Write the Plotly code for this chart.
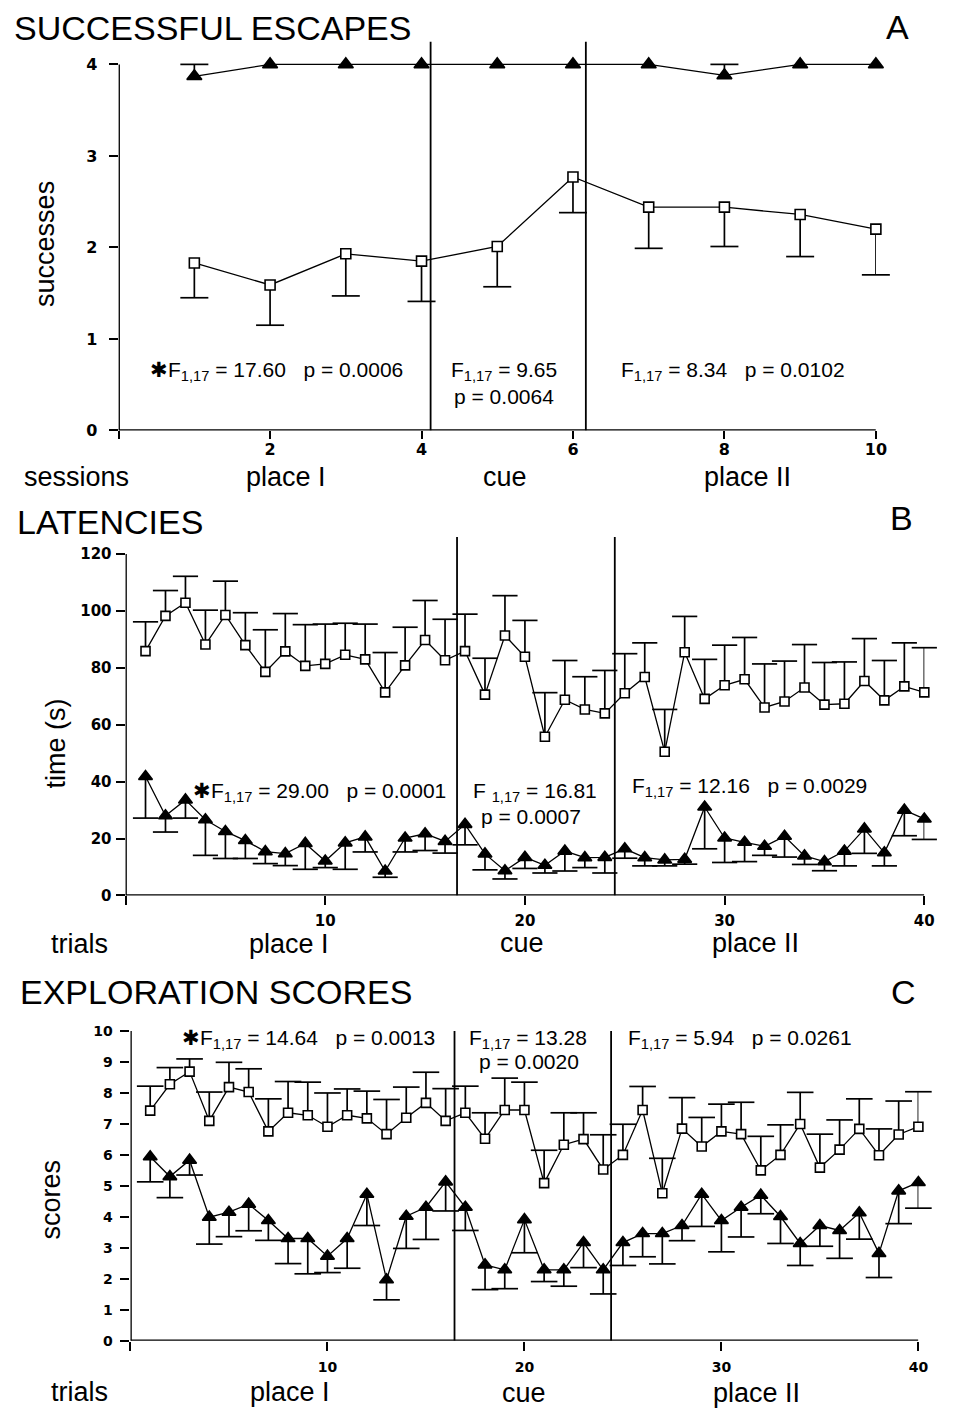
import plotly.graph_objects as go

# ---------------- data ----------------
sessions = list(range(1, 11))
trials = list(range(1, 41))

# Panel A: successful escapes
a_sq = [1.83, 1.59, 1.93, 1.85, 2.01, 2.77, 2.44, 2.44, 2.36, 2.20]
a_sq_lo = [1.45, 1.15, 1.47, 1.41, 1.57, 2.38, 1.99, 2.01, 1.90, 1.70]
a_tri = [3.87, 4.0, 4.0, 4.0, 4.0, 4.0, 4.0, 3.88, 4.0, 4.0]
a_tri_hi = [4.0, None, None, None, None, None, None, 4.0, None, None]

# Panel B: latencies
b_sq = [85.9, 98.3, 102.9, 88.2, 98.6, 88.0, 78.6, 85.8, 80.7, 81.4,
        84.6, 83.0, 71.4, 80.9, 89.8, 82.7, 85.9, 70.6, 91.4, 83.9,
        55.8, 68.8, 65.4, 64.0, 71.1, 76.8, 50.5, 85.5, 69.1, 73.9,
        76.0, 66.1, 68.2, 73.1, 67.1, 67.4, 75.4, 68.6, 73.5, 71.4]
b_sq_hi = [96.2, 107.2, 112.2, 100.3, 110.5, 99.4, 93.4, 99.1, 95.2, 95.4,
           95.7, 95.4, 85.4, 94.3, 103.7, 97.1, 98.9, 83.4, 105.4, 96.7,
           71.3, 82.6, 76.9, 79.1, 85.0, 88.8, 65.4, 98.1, 83.0, 88.0,
           90.7, 81.4, 82.4, 88.2, 81.9, 82.1, 90.3, 82.6, 88.8, 87.1]
b_tri = [41.8, 28.0, 33.6, 26.6, 22.5, 19.3, 15.4, 14.7, 18.3, 12.1,
         18.5, 20.6, 8.6, 20.2, 21.7, 19.0, 25.0, 14.6, 8.7, 13.4,
         10.6, 15.6, 13.3, 13.4, 16.4, 13.3, 12.5, 12.7, 31.1, 20.2,
         18.7, 17.3, 20.8, 13.9, 11.9, 15.6, 23.4, 15.0, 30.0, 26.9]
b_tri_lo = [27.2, 22.3, 27.2, 14.1, 13.0, 13.0, 11.2, 10.5, 9.2, 9.8,
            9.2, 15.3, 6.4, 15.3, 15.8, 14.9, 17.8, 9.0, 5.8, 9.5,
            7.9, 8.6, 9.8, 7.9, 13.1, 10.4, 10.4, 11.0, 16.4, 11.6,
            11.9, 14.1, 13.5, 10.9, 8.7, 10.4, 14.8, 10.4, 21.0, 19.7]

# Panel C: exploration scores
c_sq = [7.43, 8.28, 8.69, 7.10, 8.19, 8.03, 6.76, 7.36, 7.28, 6.91,
        7.28, 7.18, 6.67, 7.20, 7.68, 7.10, 7.36, 6.52, 7.45, 7.45,
        5.09, 6.33, 6.51, 5.53, 6.00, 7.45, 4.76, 6.85, 6.27, 6.76,
        6.67, 5.50, 6.00, 7.00, 5.59, 6.17, 6.84, 5.99, 6.66, 6.91]
c_sq_hi = [8.22, 8.82, 9.10, 8.03, 8.99, 8.78, 7.81, 8.37, 8.35, 8.00,
           8.13, 8.06, 7.79, 8.19, 8.67, 8.14, 8.22, 7.36, 8.48, 8.35,
           6.15, 7.36, 7.36, 6.65, 6.99, 8.21, 5.89, 7.85, 7.21, 7.64,
           7.70, 6.60, 6.97, 8.02, 6.67, 7.13, 7.81, 6.84, 7.74, 8.04]
c_tri = [5.94, 5.30, 5.83, 3.99, 4.15, 4.41, 3.88, 3.30, 3.30, 2.73,
         3.30, 4.73, 1.97, 4.02, 4.31, 5.13, 4.31, 2.45, 2.29, 3.91,
         2.29, 2.29, 3.17, 2.29, 3.17, 3.46, 3.46, 3.72, 4.73, 3.88,
         4.31, 4.70, 4.01, 3.14, 3.72, 3.56, 4.13, 2.82, 4.84, 5.11]
c_tri_lo = [5.13, 4.62, 5.35, 3.12, 3.36, 3.55, 3.24, 2.49, 2.16, 2.20,
            2.34, 3.72, 1.32, 2.98, 3.27, 4.19, 3.56, 1.65, 1.68, 2.84,
            1.91, 1.76, 2.36, 1.51, 2.43, 2.71, 2.48, 3.23, 3.69, 2.87,
            3.35, 4.10, 3.14, 2.43, 3.05, 2.66, 3.28, 2.04, 3.78, 4.28]

# phase boundaries
a_bounds = [4.12, 6.17]
b_bounds = [16.6, 24.5]
c_bounds = [16.45, 24.4]

a_xticks = [0, 2, 4, 6, 8, 10]
a_yticks = [0, 1, 2, 3, 4]
b_xticks = [0, 10, 20, 30, 40]
b_yticks = [0, 20, 40, 60, 80, 100, 120]
c_xticks = [0, 10, 20, 30, 40]
c_yticks = list(range(0, 11))

# ---------------- helpers ----------------
W, H = 962, 1416
FONT = "Liberation Sans"
SP = "\u00a0"


def px(x):
    return x / W


def py(y):
    return 1 - y / H


fig = go.Figure()


def add_series(x, val, bound, symbol, fill, size, cap, xa, ya):
    up, down = [], []
    for v, b in zip(val, bound):
        if b is None:
            up.append(0)
            down.append(0)
        elif b >= v:
            up.append(b - v)
            down.append(0)
        else:
            up.append(0)
            down.append(v - b)
    # caps
    fig.add_trace(go.Scatter(
        x=[xi for xi, b in zip(x, bound) if b is not None],
        y=[b for b in bound if b is not None],
        mode="markers", xaxis=xa, yaxis=ya, showlegend=False,
        cliponaxis=False, hoverinfo="skip",
        marker=dict(symbol="line-ew", size=cap,
                    line=dict(color="black", width=1.7))))
    fig.add_trace(go.Scatter(
        x=x, y=val, mode="lines+markers", xaxis=xa, yaxis=ya,
        showlegend=False, cliponaxis=False,
        line=dict(color="black", width=1.3),
        marker=dict(symbol=symbol, size=size, color=fill,
                    line=dict(color="black", width=1.6)),
        error_y=dict(type="data", symmetric=False, array=up,
                     arrayminus=down, width=0, thickness=1.7,
                     color="black")))


add_series(sessions, a_sq, a_sq_lo, "square", "white", 10, 20, "x", "y")
add_series(sessions, a_tri, a_tri_hi, "triangle-up", "black", 13, 20, "x", "y")
add_series(trials, b_sq, b_sq_hi, "square", "white", 9, 18, "x2", "y2")
add_series(trials, b_tri, b_tri_lo, "triangle-up", "black", 12, 18, "x2", "y2")
add_series(trials, c_sq, c_sq_hi, "square", "white", 9, 19, "x3", "y3")
add_series(trials, c_tri, c_tri_lo, "triangle-up", "black", 12, 19, "x3", "y3")


def axis(domain, rng, tickvals, anchor, fsize, standoff, blank0, tlen=9):
    text = [str(t) for t in tickvals]
    if blank0:
        text[0] = ""
    return dict(domain=domain, range=rng, anchor=anchor,
                tickmode="array", tickvals=tickvals, ticktext=text,
                ticks="outside", ticklen=tlen, tickwidth=2.2,
                tickcolor="black", showgrid=False, zeroline=False,
                showline=False, ticklabelstandoff=standoff,
                tickfont=dict(family="DejaVu Sans", size=fsize,
                              color="black", weight=700))


fig.update_layout(
    width=W, height=H, margin=dict(l=0, r=0, t=0, b=0),
    paper_bgcolor="white", plot_bgcolor="white",
    xaxis=axis([px(120), px(886)], [0, 10], a_xticks, "y", 16, -4, True, 8),
    yaxis=axis([py(430), py(36.9)], [0, 4.25], a_yticks, "x", 16, 8, False),
    xaxis2=axis([px(127), px(935)], [0, 40], b_xticks, "y2", 15, 3, True),
    yaxis2=axis([py(900), py(537.75)], [0, 126], b_yticks, "x2", 15, 1, False),
    xaxis3=axis([px(132), px(929)], [0, 40], c_xticks, "y3", 14, 5, True),
    yaxis3=axis([py(1350), py(1033.9)], [0, 10.1], c_yticks, "x3", 14, 5, False),
)

shapes = []
for xr, yr, xmax, ymax, top, bnds in [
    ("x", "y", 10, 4, 4.25, a_bounds),
    ("x2", "y2", 40, 120, 126, b_bounds),
    ("x3", "y3", 40, 10, 10, c_bounds),
]:
    shapes.append(dict(type="line", xref=xr, yref=yr, x0=0, x1=xmax, y0=0, y1=0,
                       line=dict(color="black", width=2.6)))
    shapes.append(dict(type="line", xref=xr, yref=yr, x0=0, x1=0, y0=0, y1=ymax,
                       line=dict(color="black", width=2.6)))
    for b in bnds:
        shapes.append(dict(type="line", xref=xr, yref=yr, x0=b, x1=b, y0=0, y1=top,
                           layer="below", line=dict(color="black", width=1.8)))
fig.update_layout(shapes=shapes)

annots = []


def ann(text, x, y, size, anchor="center", angle=0):
    annots.append(dict(text=text, x=px(x), y=py(y), xref="paper", yref="paper",
                       xanchor=anchor, yanchor="middle", showarrow=False,
                       textangle=angle,
                       font=dict(family=FONT, size=size, color="black")))


F = "F<sub>1,17</sub>"
gap = SP * 3
FS = 21
# Panel A
ann("SUCCESSFUL ESCAPES", 12, 23, 34, "left")
ann("A", 908, 22, 34)
ann("successes", 46, 241, 27, angle=-90)
ann("\u2731" + F + " = 17.60" + gap + "p = 0.0006", 150, 370, FS, "left")
ann(F + " = 9.65", 510, 370, FS)
ann("p = 0.0064", 510, 396, FS)
ann(F + " = 8.34" + gap + "p = 0.0102", 741, 370, FS)
ann("sessions", 77, 477, 27)
ann("place I", 289, 477, 27)
ann("cue", 511, 477, 27)
ann("place II", 756, 477, 27)
# Panel B
ann("LATENCIES", 15, 523, 34, "left")
ann("B", 912, 518, 34)
ann("time (s)", 57, 746, 27, angle=-90)
ann("\u2731" + F + " = 29.00" + gap + "p = 0.0001", 193, 795, FS, "left")
ann("F " + "<sub>1,17</sub>" + " = 16.81", 541, 795, FS)
ann("p = 0.0007", 537, 820, FS)
ann(F + " = 12.16" + gap + "p = 0.0029", 758, 790, FS)
ann("trials", 80, 949, 27)
ann("place I", 292, 949, 27)
ann("cue", 528, 948, 27)
ann("place II", 764, 948, 27)
# Panel C
ann("EXPLORATION SCORES", 18, 998, 34, "left")
ann("C", 914, 998, 34)
ann("scores", 52, 1207, 27, angle=-90)
ann("\u2731" + F + " = 14.64" + gap + "p = 0.0013", 182, 1045, FS, "left")
ann(F + " = 13.28", 534, 1045, FS)
ann("p = 0.0020", 535, 1068, FS)
ann(F + " = 5.94" + gap + "p = 0.0261", 749, 1045, FS)
ann("trials", 80, 1402, 27)
ann("place I", 293, 1402, 27)
ann("cue", 530, 1403, 27)
ann("place II", 765, 1403, 27)

fig.update_layout(annotations=annots)
fig.write_html("out.html")
